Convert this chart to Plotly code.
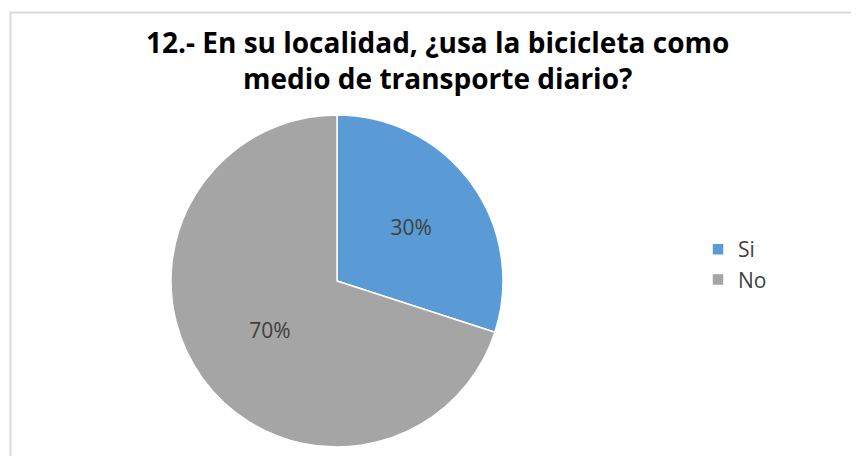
import plotly.graph_objects as go

labels = ["Si", "No"]
values = [30, 70]
colors = ["#5B9BD5", "#A5A5A5"]
title_text = "12.- En su localidad, ¿usa la bicicleta como<br>medio de transporte diario?"

W, H = 859, 456
# positions in figure coordinates (page has an 8px body margin)
cx, cy, r = 329, 273, 166

fig = go.Figure(go.Pie(
    labels=labels,
    values=values,
    sort=False,
    direction="clockwise",
    rotation=0,
    marker=dict(colors=colors, line=dict(color="white", width=1.5)),
    textinfo="percent",
    texttemplate="%{percent:.0%}",
    textposition="inside",
    insidetextfont=dict(color="#404040", size=21, family="Open Sans"),
    hoverinfo="label+percent",
    domain=dict(x=[(cx - r) / W, (cx + r) / W], y=[(H - cy - r) / H, (H - cy + r) / H]),
))

fig.update_layout(
    width=W, height=H,
    margin=dict(l=0, r=0, t=0, b=0),
    paper_bgcolor="white",
    font=dict(family="Open Sans", color="#404040"),
    annotations=[
        dict(text="<b>" + title_text + "</b>", xref="paper", yref="paper",
             x=429 / W, y=1 - 52 / H, xanchor="center", yanchor="middle", showarrow=False,
             font=dict(family="Open Sans", size=28, color="black")),
    ],
    legend=dict(x=690 / W, y=1 - 221 / H, xanchor="left", yanchor="top",
                font=dict(size=21, color="#404040", family="Open Sans"), bgcolor="rgba(0,0,0,0)"),
    shapes=[dict(type="rect", xref="paper", yref="paper", x0=2.5 / W, x1=1.05, y0=-0.05, y1=1 - 4.5 / H,
                 line=dict(color="#D9D9D9", width=2), fillcolor="rgba(0,0,0,0)", layer="below")],
)

fig.write_html("out.html")
